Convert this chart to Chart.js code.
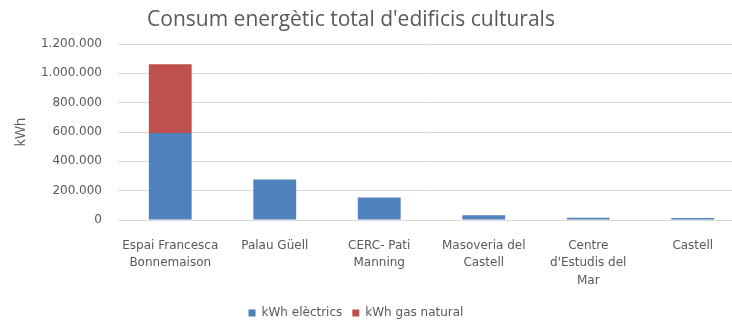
<!DOCTYPE html>
<html>
<head>
<meta charset="utf-8">
<script src="https://cdn.jsdelivr.net/npm/chart.js@4"></script>
<style>
    html, body { margin: 0; padding: 0; background: #fff; overflow: hidden; }
    #wrap { position: relative; width: 745px; height: 324px; }
    #title {
        position: absolute; left: 0; top: 4px; width: 702px; text-align: center;
        font-family: "Open Sans", sans-serif; font-size: 21px; color: #595959;
    }
</style>
</head>
<body>
<div id="wrap">
    <div id="title">Consum energètic total d'edificis culturals</div>
    <canvas id="chart" width="745" height="324"></canvas>
</div>
<script>
const buildings = [
    ['Espai Francesca', 'Bonnemaison'],
    'Palau Güell',
    ['CERC- Pati', 'Manning'],
    ['Masoveria del', 'Castell'],
    ['Centre', "d'Estudis del", 'Mar'],
    'Castell'
];
const electricKwh = [593000, 276000, 154000, 32000, 16000, 13000];
const gasKwh = [469000, 0, 0, 0, 0, 0];
const yTicks = [0, 200000, 400000, 600000, 800000, 1000000, 1200000];

const grey = '#595959';
const font = '"DejaVu Sans", sans-serif';

function fmt(v) {
    return String(v).replace(/\B(?=(\d{3})+(?!\d))/g, '.');
}

// the legend sits a little left of the canvas centre and low, near the bottom edge
const shiftLegend = {
    id: 'shiftLegend',
    afterLayout(chart) {
        chart.legend.right -= 46;
        chart.legend.top += 5;
        chart.legend.bottom += 5;
    }
};

new Chart(document.getElementById('chart'), {
    type: 'bar',
    data: {
        labels: buildings,
        datasets: [
            {
                label: 'kWh elèctrics',
                data: electricKwh,
                backgroundColor: '#4F81BD',
                stack: 'kwh'
            },
            {
                label: 'kWh gas natural',
                data: gasKwh,
                backgroundColor: '#C0504D',
                stack: 'kwh'
            }
        ]
    },
    plugins: [shiftLegend],
    options: {
        responsive: false,
        animation: false,
        layout: { padding: { top: 44, left: 13, right: 0, bottom: 0 } },
        datasets: {
            bar: { barPercentage: 0.41, categoryPercentage: 1 }
        },
        plugins: {
            legend: {
                position: 'bottom',
                align: 'center',
                labels: {
                    color: grey,
                    font: { family: font, size: 12 },
                    boxWidth: 7,
                    boxHeight: 7,
                    padding: 10
                }
            },
            tooltip: { enabled: false }
        },
        scales: {
            x: {
                stacked: true,
                grid: { display: false },
                border: { color: '#d9d9d9' },
                ticks: {
                    color: grey,
                    font: { family: font, size: 12, lineHeight: 1.45 },
                    maxRotation: 0,
                    autoSkip: false,
                    padding: 9
                },
                afterFit: axis => { axis.height = 72; }
            },
            y: {
                stacked: true,
                min: 0,
                max: 1200000,
                afterBuildTicks: axis => { axis.ticks = yTicks.map(v => ({ value: v })); },
                afterFit: axis => { axis.width = 105; },
                grid: { color: '#d9d9d9', drawTicks: false },
                border: { display: false },
                title: {
                    display: true,
                    text: 'kWh',
                    color: grey,
                    font: { family: '"Open Sans", sans-serif', size: 14 },
                    padding: 0
                },
                ticks: {
                    color: grey,
                    font: { family: font, size: 12 },
                    padding: 16,
                    callback: v => fmt(v)
                }
            }
        }
    }
});
</script>
</body>
</html>
